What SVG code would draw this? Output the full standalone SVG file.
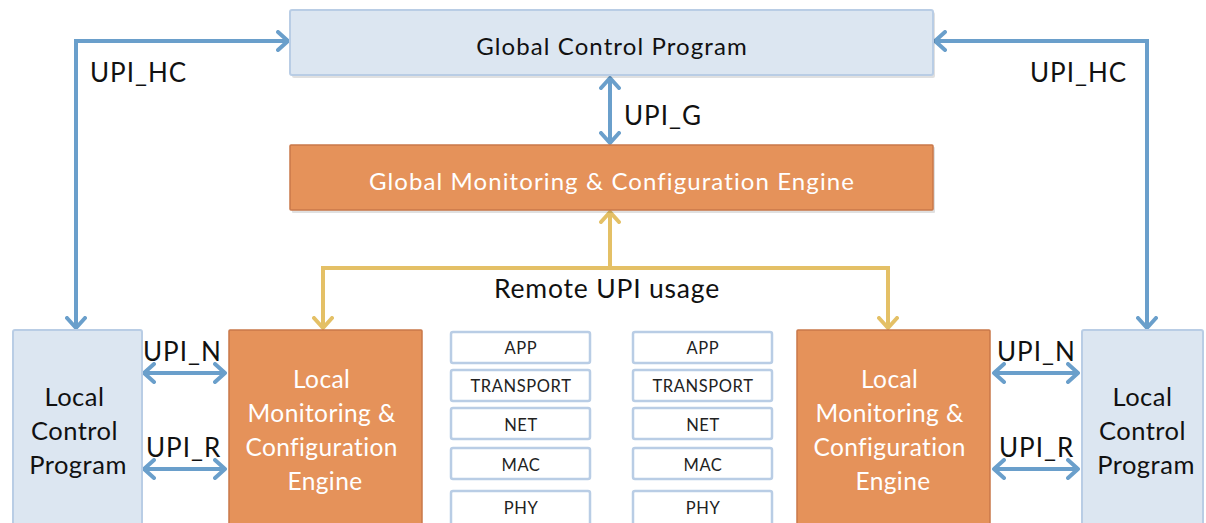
<svg xmlns="http://www.w3.org/2000/svg" width="1206" height="523" viewBox="0 0 1206 523">
  <style>
    text { font-family: "Lato", "Open Sans", "Liberation Sans", sans-serif; }
    .blue { fill: #dce6f1; stroke: #b9cde5; stroke-width: 2; }
    .orange { fill: #e5925a; stroke: #c9784a; stroke-width: 1.5; }
    .layer { fill: #ffffff; stroke: #b9cde5; stroke-width: 2.5; }
    .shadow { fill: #000000; opacity: 0.12; }
    .dark { fill: #111111; }
    .light { fill: #ffffff; }
    .title { font-size: 24px; letter-spacing: 1.1px; text-anchor: middle; }
    .lbl { fill: #111111; font-size: 26px; letter-spacing: 1px; }
    .boxtxt { font-size: 25.5px; letter-spacing: 0.5px; text-anchor: middle; }
    .enginetxt { font-size: 24.5px; letter-spacing: 0.4px; text-anchor: middle; }
    .layertxt { fill: #222222; font-size: 16.5px; letter-spacing: 0.6px; text-anchor: middle; }
    .conn-blue { fill: none; stroke: #6a9fcb; stroke-width: 4; }
    .conn-yellow { fill: none; stroke: #e4c066; stroke-width: 4; }
  </style>
  <defs>
    <marker id="arrow-blue" viewBox="0 0 14 22" refX="12" refY="11" markerWidth="14" markerHeight="22" markerUnits="userSpaceOnUse" orient="auto-start-reverse">
      <path d="M2,2 L12,11 L2,20" fill="none" stroke="#6a9fcb" stroke-width="4" stroke-linecap="round" stroke-linejoin="round"/>
    </marker>
    <marker id="arrow-yellow" viewBox="0 0 14 22" refX="12" refY="11" markerWidth="14" markerHeight="22" markerUnits="userSpaceOnUse" orient="auto-start-reverse">
      <path d="M2,2 L12,11 L2,20" fill="none" stroke="#e4c066" stroke-width="4" stroke-linecap="round" stroke-linejoin="round"/>
    </marker>
  </defs>

  <rect width="1206" height="523" fill="#ffffff"/>

  <!-- connectors -->
  <g id="connectors">
    <!-- UPI_HC, left and right -->
    <path class="conn-blue" d="M76,328 L76,41 L288,41" marker-start="url(#arrow-blue)" marker-end="url(#arrow-blue)"/>
    <path class="conn-blue" d="M1147,328 L1147,41 L935,41" marker-start="url(#arrow-blue)" marker-end="url(#arrow-blue)"/>
    <!-- UPI_G -->
    <path class="conn-blue" d="M610,78 L610,143" marker-start="url(#arrow-blue)" marker-end="url(#arrow-blue)"/>
    <!-- Remote UPI usage -->
    <path class="conn-yellow" d="M610,268 L610,212" marker-end="url(#arrow-yellow)"/>
    <path class="conn-yellow" d="M323,328 L323,268 L888,268 L888,328" marker-start="url(#arrow-yellow)" marker-end="url(#arrow-yellow)"/>
    <!-- UPI_N / UPI_R, left -->
    <path class="conn-blue" d="M144,373 L225,373" marker-start="url(#arrow-blue)" marker-end="url(#arrow-blue)"/>
    <path class="conn-blue" d="M144,469 L225,469" marker-start="url(#arrow-blue)" marker-end="url(#arrow-blue)"/>
    <!-- UPI_N / UPI_R, right -->
    <path class="conn-blue" d="M994,373 L1078,373" marker-start="url(#arrow-blue)" marker-end="url(#arrow-blue)"/>
    <path class="conn-blue" d="M994,469 L1078,469" marker-start="url(#arrow-blue)" marker-end="url(#arrow-blue)"/>
    <!-- labels -->
    <text class="lbl" x="90" y="82">UPI_HC</text>
    <text class="lbl" x="1030" y="82">UPI_HC</text>
    <text class="lbl" x="624" y="125">UPI_G</text>
    <text class="lbl" x="607" y="298" text-anchor="middle" style="font-size:26.5px;letter-spacing:0.8px">Remote UPI usage</text>
    <text class="lbl" x="143" y="361">UPI_N</text>
    <text class="lbl" x="146" y="457">UPI_R</text>
    <text class="lbl" x="997" y="361">UPI_N</text>
    <text class="lbl" x="999" y="457">UPI_R</text>
  </g>

  <g id="global-control-program">
    <rect class="shadow" x="292" y="12" width="643" height="66" rx="2"/>
    <rect class="blue" x="290" y="10" width="643" height="65" rx="2"/>
    <text class="dark title" x="612" y="55">Global Control Program</text>
  </g>

  <g id="global-monitoring-engine">
    <rect class="shadow" x="292" y="147" width="643" height="66" rx="1"/>
    <rect class="orange" x="290" y="145" width="643" height="65" rx="1"/>
    <text class="light title" x="612" y="190">Global Monitoring &amp; Configuration Engine</text>
  </g>

  <g id="local-control-program-left">
    <rect class="blue" x="13" y="330" width="129" height="200" rx="2"/>
    <text class="dark boxtxt">
      <tspan x="78" y="406">Local</tspan>
      <tspan x="78" y="440">Control</tspan>
      <tspan x="78" y="474">Program</tspan>
    </text>
  </g>

  <g id="local-monitoring-engine-left">
    <rect class="orange" x="229" y="330" width="193" height="200" rx="1"/>
    <text class="light enginetxt">
      <tspan x="325" y="388">Local</tspan>
      <tspan x="325" y="422">Monitoring &amp;</tspan>
      <tspan x="325" y="456">Configuration</tspan>
      <tspan x="325" y="490">Engine</tspan>
    </text>
  </g>

  <g id="protocol-stack-left">
    <rect class="layer" x="451" y="332" width="139" height="31" rx="2"/>
    <text class="layertxt" x="521" y="354">APP</text>
    <rect class="layer" x="451" y="370" width="139" height="31" rx="2"/>
    <text class="layertxt" x="521" y="392">TRANSPORT</text>
    <rect class="layer" x="451" y="408" width="139" height="31" rx="2"/>
    <text class="layertxt" x="521" y="431">NET</text>
    <rect class="layer" x="451" y="448" width="139" height="31" rx="2"/>
    <text class="layertxt" x="521" y="471">MAC</text>
    <rect class="layer" x="451" y="491" width="139" height="36" rx="2"/>
    <text class="layertxt" x="521" y="514">PHY</text>
  </g>

  <g id="protocol-stack-right">
    <rect class="layer" x="633" y="332" width="139" height="31" rx="2"/>
    <text class="layertxt" x="703" y="354">APP</text>
    <rect class="layer" x="633" y="370" width="139" height="31" rx="2"/>
    <text class="layertxt" x="703" y="392">TRANSPORT</text>
    <rect class="layer" x="633" y="408" width="139" height="31" rx="2"/>
    <text class="layertxt" x="703" y="431">NET</text>
    <rect class="layer" x="633" y="448" width="139" height="31" rx="2"/>
    <text class="layertxt" x="703" y="471">MAC</text>
    <rect class="layer" x="633" y="491" width="139" height="36" rx="2"/>
    <text class="layertxt" x="703" y="514">PHY</text>
  </g>

  <g id="local-monitoring-engine-right">
    <rect class="orange" x="797" y="330" width="193" height="200" rx="1"/>
    <text class="light enginetxt">
      <tspan x="893" y="388">Local</tspan>
      <tspan x="893" y="422">Monitoring &amp;</tspan>
      <tspan x="893" y="456">Configuration</tspan>
      <tspan x="893" y="490">Engine</tspan>
    </text>
  </g>

  <g id="local-control-program-right">
    <rect class="blue" x="1082" y="330" width="121" height="200" rx="2"/>
    <text class="dark boxtxt">
      <tspan x="1146" y="406">Local</tspan>
      <tspan x="1146" y="440">Control</tspan>
      <tspan x="1146" y="474">Program</tspan>
    </text>
  </g>
</svg>
